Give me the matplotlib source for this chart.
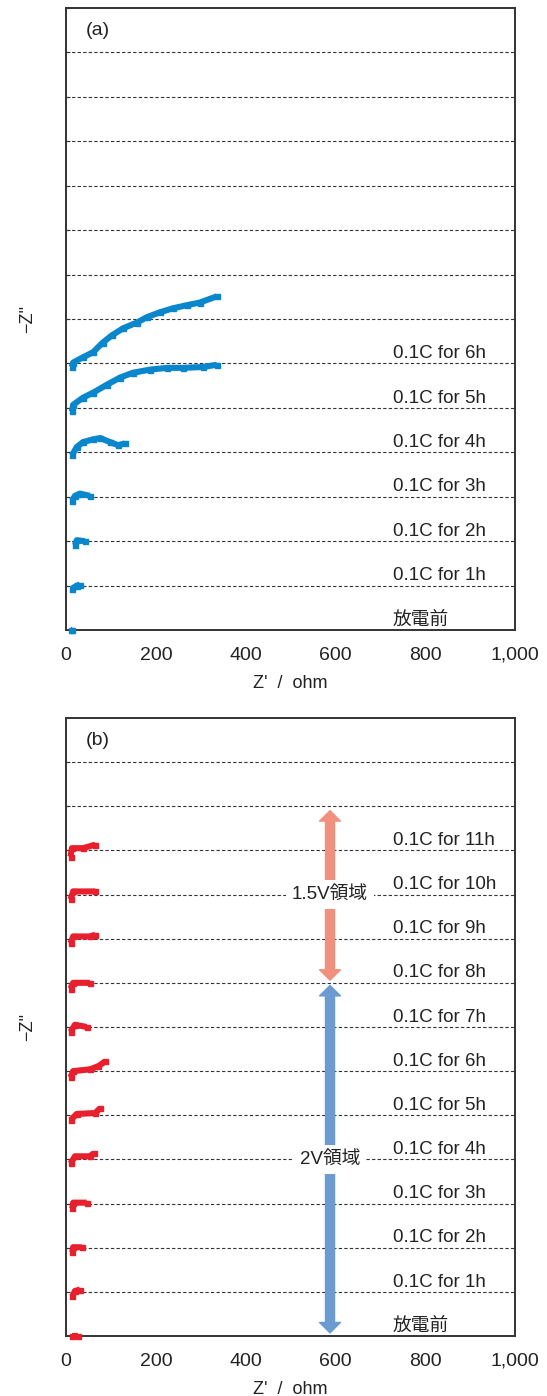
import matplotlib.pyplot as plt

plt.rcParams['font.family'] = ['Liberation Sans', 'Noto Sans CJK JP']

# panel (a): impedance curves, y given relative to each offset line
a_labels = ['放電前', '0.1C for 1h', '0.1C for 2h', '0.1C for 3h',
            '0.1C for 4h', '0.1C for 5h', '0.1C for 6h']
a_x = [
    [12, 14],
    [13, 24, 31],
    [20, 24, 42],
    [13, 20, 31, 53],
    [13, 24, 38, 60, 76, 98, 116, 131],
    [13, 16, 38, 60, 91, 120, 149, 187, 225, 261, 305, 336],
    [13, 16, 38, 60, 82, 102, 127, 158, 180, 209, 238, 269, 298, 336],
]
a_y = [
    [0.0, 0.0],
    [-0.07, 0.0, 0.02],
    [-0.09, 0.02, 0.0],
    [-0.09, 0.02, 0.07, 0.02],
    [-0.07, 0.12, 0.23, 0.29, 0.32, 0.23, 0.16, 0.20],
    [-0.08, 0.07, 0.23, 0.34, 0.52, 0.68, 0.79, 0.86, 0.90, 0.90, 0.92, 0.97],
    [-0.08, 0.02, 0.14, 0.25, 0.47, 0.63, 0.79, 0.92, 1.04, 1.15, 1.24, 1.31, 1.37, 1.51],
]

# panel (b)
b_labels = ['放電前'] + ['0.1C for %dh' % h for h in range(1, 12)]
b_x = [
    [13, 27],
    [14, 20, 31],
    [14, 16, 35],
    [14, 16, 46],
    [10, 20, 53, 62],
    [10, 24, 65, 76],
    [10, 16, 53, 72, 87],
    [10, 20, 46],
    [10, 16, 53],
    [10, 16, 53, 65],
    [10, 16, 65],
    [10, 13, 38, 65],
]
b_y = [
    [0.0, 0.0],
    [-0.1, 0.02, 0.05],
    [-0.1, 0.01, 0.01],
    [-0.11, 0.02, 0.02],
    [-0.09, 0.07, 0.07, 0.14],
    [-0.11, 0.03, 0.05, 0.16],
    [-0.14, 0.0, 0.04, 0.11, 0.22],
    [-0.11, 0.05, 0.0],
    [-0.13, 0.0, 0.0],
    [-0.1, 0.05, 0.05, 0.09],
    [-0.11, 0.07, 0.07],
    [-0.14, 0.05, 0.05, 0.13],
]

xticks = [0, 200, 400, 600, 800, 1000]
xticklabels = ['0', '200', '400', '600', '800', '1,000']

fig = plt.figure(figsize=(5.47, 13.96), dpi=100)
ax_a = fig.add_axes([0.1207, 0.5487, 0.8208, 0.4456])
ax_b = fig.add_axes([0.1207, 0.0430, 0.8208, 0.4427])


def setup(ax, tag, labels, xs, ys, color):
    ax.set_xlim(0, 1000)
    ax.set_ylim(0, 14)
    for k in range(1, 14):
        ax.axhline(k, color='#333333', lw=0.8, ls=(0, (3, 2)), zorder=1)
    for k, (x, y) in enumerate(zip(xs, ys)):
        ax.plot(x, [v + k for v in y], color=color, lw=4.4,
                marker='s', ms=3.6, solid_capstyle='butt', zorder=3,
                clip_on=False)
        ax.text(728, k + 0.03, labels[k], fontsize=13.5, color='#222222',
                va='bottom', ha='left')
    ax.text(45, 13.5, tag, fontsize=14, color='#222222', va='center')
    ax.set_xticks(xticks)
    ax.set_xticklabels(xticklabels)
    ax.set_yticks(range(0, 15))
    ax.set_yticklabels([])
    ax.tick_params(axis='x', length=0, labelsize=14, colors='#222222', pad=12)
    ax.tick_params(axis='y', length=3, direction='in', color='#333333')
    for s in ax.spines.values():
        s.set_color('#333333')
        s.set_linewidth(1.4)
    ax.set_xlabel("Z'  /  ohm", fontsize=13, color='#222222', labelpad=8)
    ax.set_ylabel('−Z"', fontsize=13, color='#222222', labelpad=18)


setup(ax_a, '(a)', a_labels, a_x, a_y, '#0a87cc')
setup(ax_b, '(b)', b_labels, b_x, b_y, '#e8202e')

# voltage region arrows in panel (b)
arrow = 'simple,head_length=0.75,head_width=1.5,tail_width=0.65'
for x0, y_mid, y_lo, y_hi, col, txt in [
        (588, 10.0, 8.06, 11.9, '#f2907e', '1.5V領域'),
        (588, 4.0, 0.07, 7.94, '#6b9bd0', '2V領域')]:
    for yend in (y_lo, y_hi):
        ax_b.annotate('', xy=(x0, yend), xytext=(x0, y_mid),
                      arrowprops=dict(arrowstyle=arrow, mutation_scale=10,
                                      color=col, shrinkA=0, shrinkB=0),
                      zorder=4)
    ax_b.text(x0, y_mid, txt, fontsize=13.5, color='#222222',
              ha='center', va='center', zorder=5,
              bbox=dict(facecolor='white', edgecolor='none', pad=4))

fig.savefig('out.png', dpi=100)
